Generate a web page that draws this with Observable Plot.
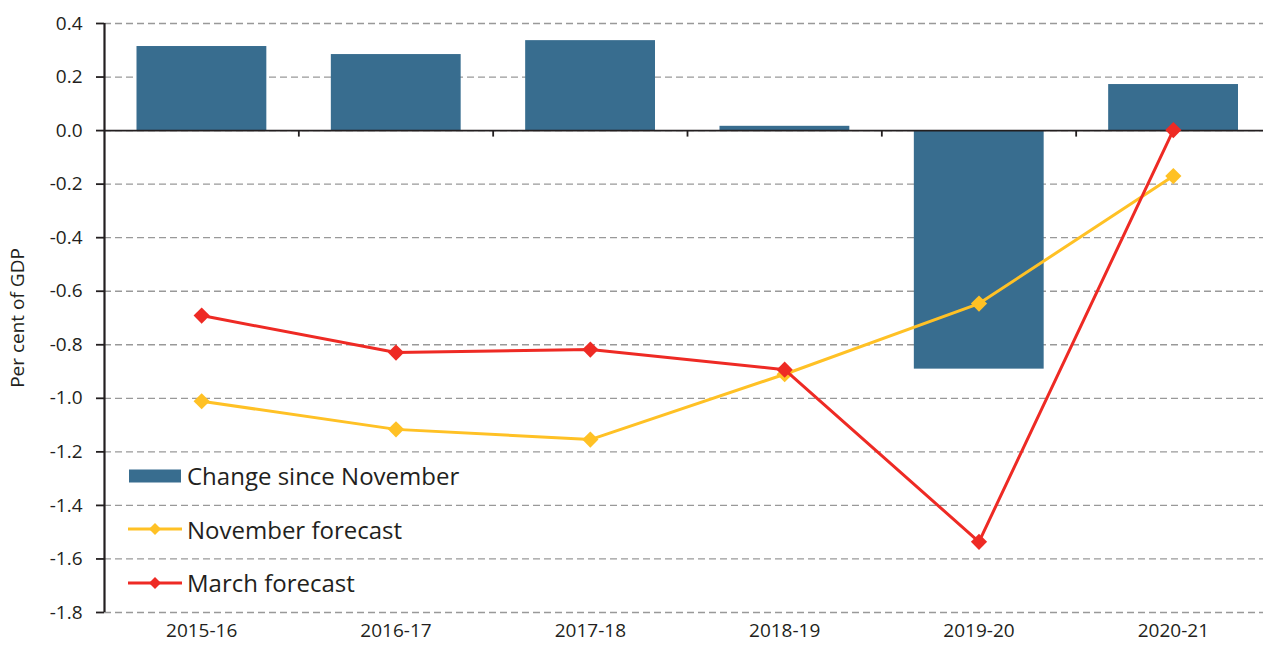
<!DOCTYPE html>
<html>
<head>
<meta charset="utf-8">
<script src="https://cdn.jsdelivr.net/npm/d3@7"></script>
<script src="https://cdn.jsdelivr.net/npm/@observablehq/plot@0.6"></script>
<style>
  html, body { margin: 0; padding: 0; background: #fff; }
  #wrap { position: relative; width: 1263px; height: 645px; font-family: "Open Sans", sans-serif; }
  #legend { position: absolute; left: 128px; top: 449px; color: #231f20; font-size: 24px; }
  .row { display: flex; align-items: center; height: 53.5px; }
  .row svg { margin-right: 5px; }
</style>
</head>
<body>
<div id="wrap"></div>
<script>
const categories = ["2015-16", "2016-17", "2017-18", "2018-19", "2019-20", "2020-21"];
const changeSinceNovember = [0.314, 0.284, 0.336, 0.016, -0.891, 0.172];
const novemberForecast = [-1.011, -1.116, -1.154, -0.910, -0.646, -0.170];
const marchForecast = [-0.691, -0.829, -0.818, -0.893, -1.536, 0.002];
const yTicks = [0.4, 0.2, 0.0, -0.2, -0.4, -0.6, -0.8, -1.0, -1.2, -1.4, -1.6, -1.8];
const yTickLabels = ["0.4", "0.2", "0.0", "-0.2", "-0.4", "-0.6", "-0.8", "-1.0", "-1.2", "-1.4", "-1.6", "-1.8"];

const colors = { bar: "#386d8f", nov: "#ffc125", mar: "#ee2a24" };

const rows = categories.map((c, i) => ({
  i, category: c,
  change: changeSinceNovember[i],
  nov: novemberForecast[i],
  mar: marchForecast[i]
}));
const boundaries = d3.range(1, categories.length + 1);

const tickSymbol = { draw(ctx, size) { ctx.moveTo(0, 0); ctx.lineTo(0, 6); } };

const chart = Plot.plot({
  width: 1263,
  height: 645,
  marginLeft: 104,
  marginRight: -7,
  marginTop: 23,
  marginBottom: 33,
  style: { fontFamily: "Open Sans, sans-serif", color: "#231f20", background: "#fff" },
  x: { type: "linear", domain: [0, categories.length] },
  y: { domain: [-1.8, 0.4] },
  marks: [
    Plot.gridY(yTicks, { stroke: "#999", strokeOpacity: 1, strokeWidth: 1.3, strokeDasharray: "7,4" }),
    Plot.rectY(rows, { x1: d => d.i, x2: d => d.i + 1, y1: 0, y2: "change", fill: colors.bar, insetLeft: 32.5, insetRight: 32 }),
    Plot.ruleY([0], { stroke: "#231f20", strokeWidth: 1.8 }),
    Plot.ruleX([0], { stroke: "#231f20", strokeWidth: 2.2 }),
    Plot.dot(boundaries, { x: d => d, y: 0, symbol: tickSymbol, fill: "none", stroke: "#231f20", strokeWidth: 1.8 }),
    Plot.lineY(rows, { x: d => d.i + 0.5, y: "nov", stroke: colors.nov, strokeWidth: 3 }),
    Plot.dot(rows, { x: d => d.i + 0.5, y: "nov", symbol: "diamond2", r: 7.3, fill: colors.nov }),
    Plot.lineY(rows, { x: d => d.i + 0.5, y: "mar", stroke: colors.mar, strokeWidth: 3 }),
    Plot.dot(rows, { x: d => d.i + 0.5, y: "mar", symbol: "diamond2", r: 7.3, fill: colors.mar }),
    Plot.axisY(yTicks, {
      tickSize: 8, tickPadding: 14, fontSize: 19,
      tickFormat: d => yTickLabels[yTicks.indexOf(d)],
      stroke: "#231f20", strokeWidth: 1.8,
      label: "Per cent of GDP", labelAnchor: "center", labelArrow: "none", labelOffset: 94
    }),
    Plot.axisX(d3.range(categories.length).map(i => i + 0.5), {
      tickSize: 0, tickPadding: 11, fontSize: 19,
      tickFormat: d => categories[d - 0.5],
      label: null
    })
  ]
});

chart.querySelectorAll("g[aria-label='y-axis label'] text").forEach(t => t.setAttribute("font-size", "19"));

const wrap = document.getElementById("wrap");
wrap.appendChild(chart);

const legend = document.createElement("div");
legend.id = "legend";
const items = [
  { label: "Change since November", type: "bar", color: colors.bar },
  { label: "November forecast", type: "line", color: colors.nov },
  { label: "March forecast", type: "line", color: colors.mar }
];
for (const it of items) {
  const row = document.createElement("div");
  row.className = "row";
  const sw = d3.create("svg").attr("width", 54).attr("height", 20);
  if (it.type === "bar") {
    sw.append("rect").attr("x", 1).attr("y", 3.5).attr("width", 52).attr("height", 13).attr("fill", it.color);
  } else {
    sw.append("line").attr("x1", 0).attr("x2", 54).attr("y1", 10).attr("y2", 10).attr("stroke", it.color).attr("stroke-width", 3);
    sw.append("path").attr("d", "M27,4 L33,10 L27,16 L21,10 Z").attr("fill", it.color);
  }
  row.appendChild(sw.node());
  const span = document.createElement("span");
  span.textContent = it.label;
  row.appendChild(span);
  legend.appendChild(row);
}
wrap.appendChild(legend);
</script>
</body>
</html>
